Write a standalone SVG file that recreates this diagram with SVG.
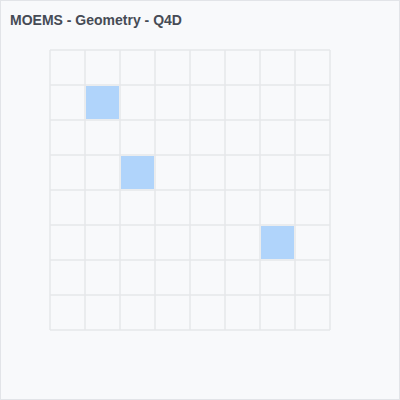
<svg xmlns="http://www.w3.org/2000/svg" width="400" height="400" viewBox="0 0 400 400">
<style>
.bg{fill:#f8f9fb;stroke:#e2e4e8;stroke-width:1}
.title{font-family:"Liberation Sans",Arial,sans-serif;font-size:14px;font-weight:bold;fill:#464b55}
.grid line{stroke:#e6e7ea;stroke-width:1.5}
.cell{fill:#b0d4fb}
</style>
<rect class="bg" x="0.5" y="0.5" width="399" height="399"/>
<text class="title" x="10" y="25">MOEMS - Geometry - Q4D</text>
<g id="cells">
<rect id="cell-1-1" class="cell" x="86" y="86" width="33" height="33"/>
<rect id="cell-3-2" class="cell" x="121" y="156" width="33" height="33"/>
<rect id="cell-5-6" class="cell" x="261" y="226" width="33" height="33"/>
</g>
<g id="grid" class="grid">
<line x1="50" y1="50" x2="50" y2="330"/>
<line x1="85" y1="50" x2="85" y2="330"/>
<line x1="120" y1="50" x2="120" y2="330"/>
<line x1="155" y1="50" x2="155" y2="330"/>
<line x1="190" y1="50" x2="190" y2="330"/>
<line x1="225" y1="50" x2="225" y2="330"/>
<line x1="260" y1="50" x2="260" y2="330"/>
<line x1="295" y1="50" x2="295" y2="330"/>
<line x1="330" y1="50" x2="330" y2="330"/>
<line x1="50" y1="50" x2="330" y2="50"/>
<line x1="50" y1="85" x2="330" y2="85"/>
<line x1="50" y1="120" x2="330" y2="120"/>
<line x1="50" y1="155" x2="330" y2="155"/>
<line x1="50" y1="190" x2="330" y2="190"/>
<line x1="50" y1="225" x2="330" y2="225"/>
<line x1="50" y1="260" x2="330" y2="260"/>
<line x1="50" y1="295" x2="330" y2="295"/>
<line x1="50" y1="330" x2="330" y2="330"/>
</g>
</svg>
